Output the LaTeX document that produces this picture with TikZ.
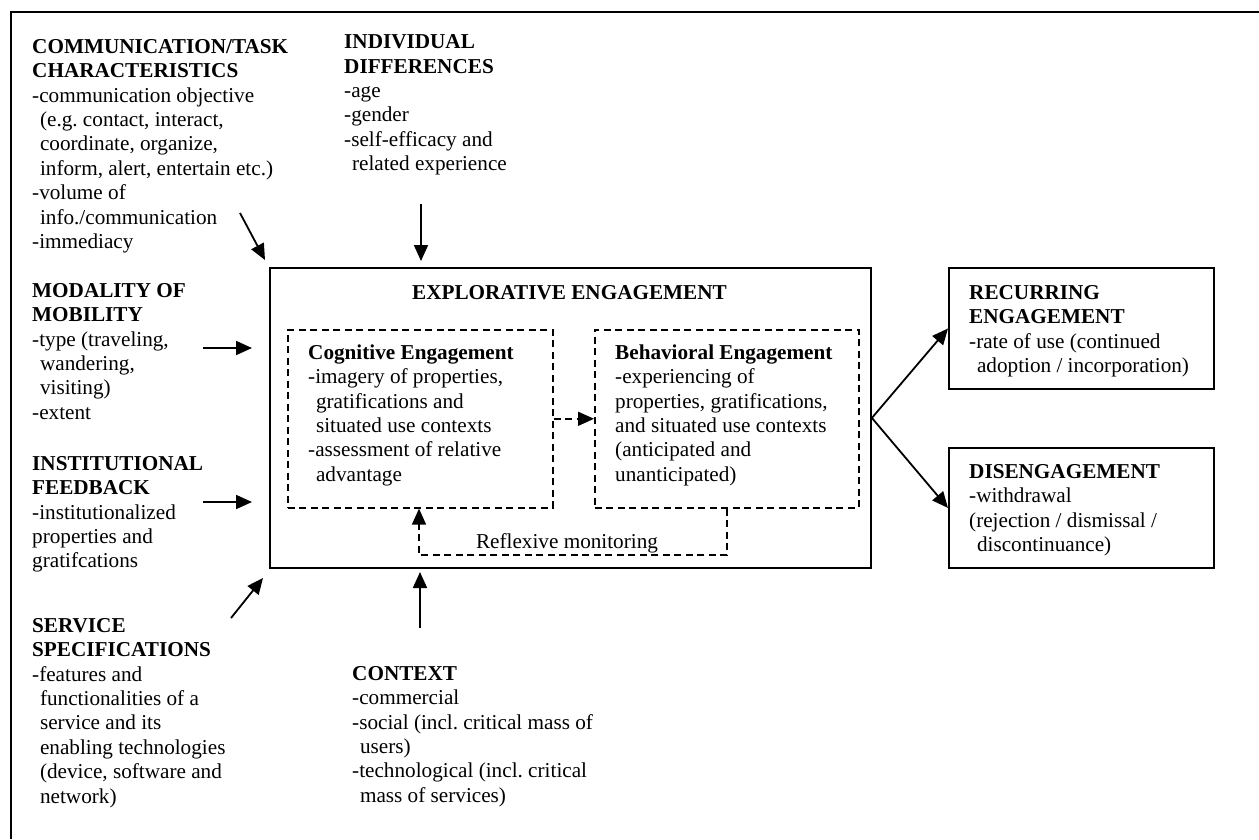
\documentclass[tikz,border=0pt]{standalone}
\usepackage{fontspec}
\setmainfont{Liberation Serif}
\usetikzlibrary{arrows.meta}
\newcommand\myind{\hspace*{0.37em}}
\begin{document}
\begin{tikzpicture}[x=1pt,y=-1pt,
  txt/.style={anchor=north west, yshift=17.08pt, inner sep=0pt, align=left, font=\fontsize{21.2}{24.4}\selectfont},
  ctxt/.style={anchor=base, inner sep=0pt, font=\fontsize{21.2}{24.4}\selectfont},
  box/.style={draw, line width=1.9pt, anchor=north west, inner sep=0pt},
  dbox/.style={draw, line width=1.6pt, dash pattern=on 7pt off 4.5pt, anchor=north west, inner sep=0pt},
  arr/.style={line width=1.8pt, -{Triangle[length=16pt,width=14pt]}},
  darr/.style={line width=1.6pt, dash pattern=on 7pt off 4.5pt, -{Triangle[length=16pt,width=14pt]}},
]
\useasboundingbox (0,0) rectangle (1259,839);
% outer frame (top and left edges only)
\coordinate (f1) at (11,839);
\coordinate (f2) at (11,12);
\coordinate (f3) at (1259,12);
\draw[line width=1.9pt] (f1) -- (f2) -- (f3);

% boxes
\node[box, minimum width=601pt, minimum height=300pt] (ee) at (269,267) {};
\node[dbox, minimum width=265pt, minimum height=178pt] (cog) at (287,329) {};
\node[dbox, minimum width=264pt, minimum height=178pt] (beh) at (594,329) {};
\node[box, minimum width=265pt, minimum height=121pt] (re) at (948,267) {};
\node[box, minimum width=265pt, minimum height=120pt] (de) at (948,447) {};

% texts
\node[txt] (comm) at (32,53) {\strut\textbf{COMMUNICATION/TASK}\\ \textbf{CHARACTERISTICS}\\ -communication objective\\ \myind(e.g.\ contact, interact,\\ \myind coordinate, organize,\\ \myind inform, alert, entertain etc.)\\ -volume of\\ \myind info./communication\\ -immediacy};
\node[txt] (ind) at (344,48.5) {\strut\textbf{INDIVIDUAL}\\ \textbf{DIFFERENCES}\\ -age\\ -gender\\ -self-efficacy and\\ \myind related experience};
\node[txt] (mod) at (32,297) {\strut\textbf{MODALITY OF}\\ \textbf{MOBILITY}\\ -type (traveling,\\ \myind wandering,\\ \myind visiting)\\ -extent};
\node[txt] (inst) at (32,470) {\strut\textbf{INSTITUTIONAL}\\ \textbf{FEEDBACK}\\ -institutionalized\\ properties and\\ gratifcations};
\node[txt] (serv) at (32,632) {\strut\textbf{SERVICE}\\ \textbf{SPECIFICATIONS}\\ -features and\\ \myind functionalities of a\\ \myind service and its\\ \myind enabling technologies\\ \myind(device, software and\\ \myind network)};
\node[txt] (ctx) at (352,680) {\strut\textbf{CONTEXT}\\ -commercial\\ -social (incl.\ critical mass of\\ \myind users)\\ -technological (incl.\ critical\\ \myind mass of services)};

\node[ctxt] (eet) at (569.5,299) {\textbf{EXPLORATIVE ENGAGEMENT}};
\node[txt] (cogt) at (308,359) {\strut\textbf{Cognitive Engagement}\\ -imagery of properties,\\ \myind gratifications and\\ \myind situated use contexts\\ -assessment of relative\\ \myind advantage};
\node[txt] (beht) at (615,359) {\strut\textbf{Behavioral Engagement}\\ -experiencing of\\ properties, gratifications,\\ and situated use contexts\\ (anticipated and\\ unanticipated)};
\node[txt] (ret) at (969,299) {\strut\textbf{RECURRING}\\ \textbf{ENGAGEMENT}\\ -rate of use (continued\\ \myind adoption / incorporation)};
\node[txt] (det) at (969,478) {\strut\textbf{DISENGAGEMENT}\\ -withdrawal\\ (rejection / dismissal /\\ \myind discontinuance)};
\node[ctxt] (rm) at (567,548) {Reflexive monitoring};

% dashed connectors
\draw[darr] (cog.east) -- (beh.west);
\coordinate (r1) at (727,555);
\coordinate (r2) at (419,555);
\draw[darr] (r1 |- beh.south) -- (r1) -- (r2) -- (r2 |- cog.south);

% outcome arrows
\draw[arr] (ee.east) -- (re.west);
\draw[arr] (ee.east) -- (de.west);

% input arrows
\coordinate (a1s) at (240,213); \coordinate (a1e) at (265,260);
\coordinate (a2s) at (421,204); \coordinate (a2e) at (421,261);
\coordinate (a3s) at (203,348); \coordinate (a3e) at (252,348);
\coordinate (a4s) at (203,502); \coordinate (a4e) at (252,502);
\coordinate (a5s) at (231,618); \coordinate (a5e) at (263,578);
\coordinate (a6s) at (420,628); \coordinate (a6e) at (420,572);
\draw[arr] (a1s) -- (a1e);
\draw[arr] (a2s) -- (a2e);
\draw[arr] (a3s) -- (a3e);
\draw[arr] (a4s) -- (a4e);
\draw[arr] (a5s) -- (a5e);
\draw[arr] (a6s) -- (a6e);
\end{tikzpicture}
\end{document}
